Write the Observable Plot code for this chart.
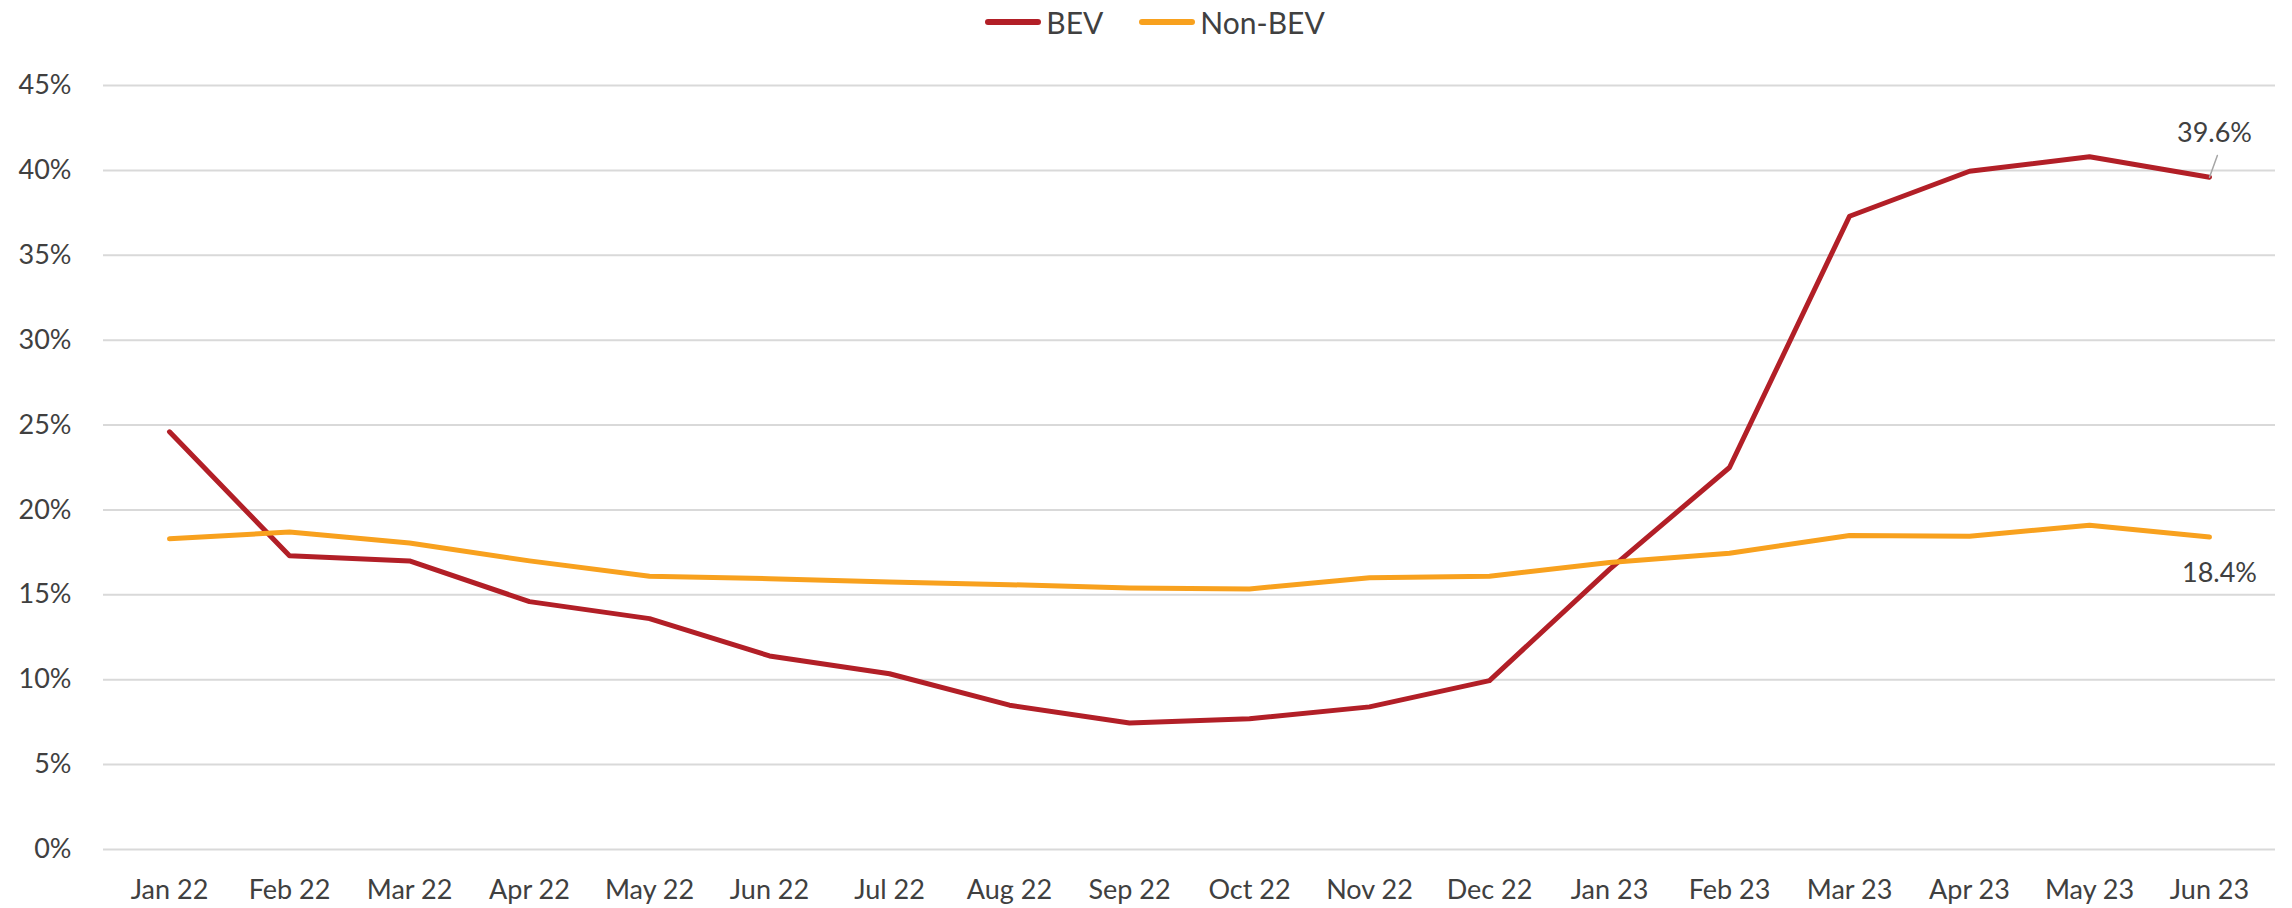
<!DOCTYPE html>
<html>
<head>
<meta charset="utf-8">
<script src="https://cdn.jsdelivr.net/npm/d3@7"></script>
<script src="https://cdn.jsdelivr.net/npm/@observablehq/plot@0.6"></script>
<style>
  html, body { margin: 0; padding: 0; background: #fff; overflow: hidden; }
  #legend { height: 44px; display: flex; justify-content: center; align-items: center; font-family: Lato, sans-serif; font-size: 30px; color: #404040; padding-left: 18px; box-sizing: border-box; }
  .item { display: flex; align-items: center; margin: 0 18px; }
  .sw { width: 56px; height: 6px; border-radius: 3px; margin-right: 5px; }
</style>
</head>
<body>
<div id="legend"></div>
<div id="chart"></div>
<script>
const months = ["Jan 22","Feb 22","Mar 22","Apr 22","May 22","Jun 22","Jul 22","Aug 22","Sep 22","Oct 22","Nov 22","Dec 22","Jan 23","Feb 23","Mar 23","Apr 23","May 23","Jun 23"];
const bev    = [24.6,17.3,17.0,14.6,13.6,11.4,10.35,8.5,7.45,7.7,8.4,9.95,16.5,22.5,37.3,39.95,40.8,39.6];
const nonBev = [18.3,18.7,18.05,17.0,16.1,15.95,15.75,15.6,15.4,15.35,16.0,16.1,16.9,17.45,18.5,18.45,19.1,18.4];
const yTicks = [0,5,10,15,20,25,30,35,40,45];
const seriesNames = ["BEV","Non-BEV"];
const seriesColors = ["#B21F27","#F8A11E"];

const data = months.map((m, i) => ({month: m, bev: bev[i], non: nonBev[i]}));
const last = [data[data.length - 1]];

const legend = document.getElementById("legend");
seriesNames.forEach((n, i) => {
  const it = document.createElement("div");
  it.className = "item";
  it.innerHTML = `<div class="sw" style="background:${seriesColors[i]}"></div><span>${n}</span>`;
  legend.appendChild(it);
});

const chart = Plot.plot({
  width: 2292,
  height: 864,
  marginLeft: 103,
  marginRight: 17,
  marginTop: 41,
  marginBottom: 59,
  style: {fontFamily: "Lato, sans-serif", fontSize: "27px", color: "#404040", background: "white"},
  x: {type: "point", domain: months, padding: 0.5, label: null, tickSize: 0, tickPadding: 30},
  y: {domain: [0, 45], ticks: yTicks, tickFormat: d => d + "%", label: null, tickSize: 0, tickPadding: 32},
  marks: [
    Plot.gridY(yTicks, {stroke: "#d9d9d9", strokeOpacity: 1, strokeWidth: 2}),
    Plot.line(data, {x: "month", y: "bev", stroke: seriesColors[0], strokeWidth: 5, strokeLinejoin: "round", strokeLinecap: "round"}),
    Plot.line(data, {x: "month", y: "non", stroke: seriesColors[1], strokeWidth: 5, strokeLinejoin: "round", strokeLinecap: "round"}),
    Plot.vector(last, {x: "month", y: "bev", length: 23, rotate: 20, anchor: "start", stroke: "#a6a6a6", strokeWidth: 1.5,
      shape: {draw(ctx, l) { ctx.moveTo(0, 0); ctx.lineTo(0, -l); }}}),
    Plot.text(last, {x: "month", y: "bev", text: d => d.bev.toFixed(1) + "%", dx: 5, dy: -44, fontSize: 27, fill: "#404040"}),
    Plot.text(last, {x: "month", y: "non", text: d => d.non.toFixed(1) + "%", dx: 10, dy: 36, fontSize: 27, fill: "#404040"})
  ]
});
document.getElementById("chart").appendChild(chart);
</script>
</body>
</html>
